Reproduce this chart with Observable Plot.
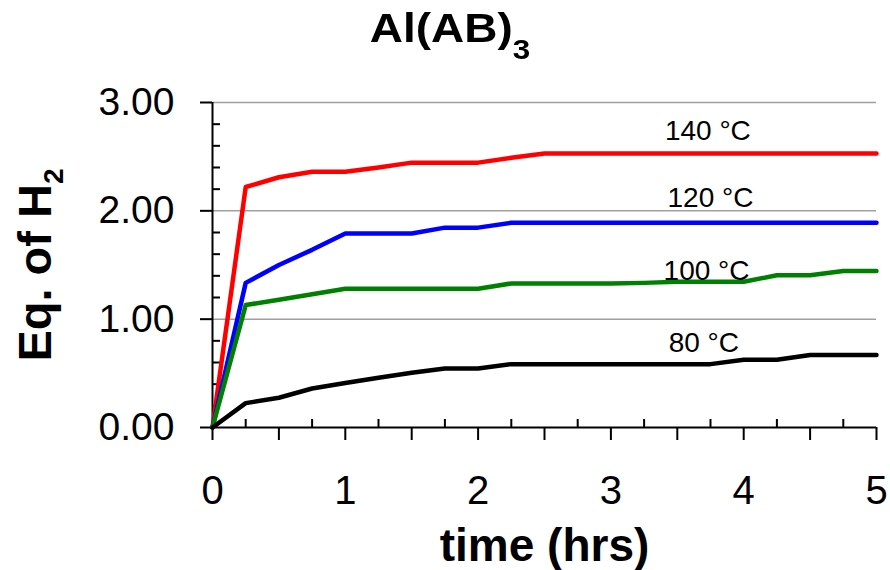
<!DOCTYPE html>
<html><head><meta charset="utf-8">
<script src="https://cdn.jsdelivr.net/npm/d3@7"></script>
<script src="https://cdn.jsdelivr.net/npm/@observablehq/plot@0.6"></script>
<style>
html,body{margin:0;padding:0;background:#fff;}
#title{position:relative;height:70px;width:890px;font-family:"Liberation Sans",Arial,sans-serif;font-weight:bold;font-size:41px;color:#000;}
#title span{position:absolute;left:10px;right:0;top:8px;line-height:41px;text-align:center;white-space:nowrap;transform:scaleX(1.12);transform-origin:50% 50%;}
#title sub{font-size:28px;vertical-align:baseline;position:relative;top:17px;line-height:0;}
</style></head><body>
<div id="title"><span>Al(AB)<sub>3</sub></span></div>
<div id="chart"></div>
<script>
// time (hrs)
const time = [0, 0.25, 0.5, 0.75, 1, 1.25, 1.5, 1.75, 2, 2.25, 2.5, 2.75, 3, 3.25, 3.5, 3.75, 4, 4.25, 4.5, 4.75, 5];
// Eq. of H2 per temperature
const t140 = [0, 2.22, 2.31, 2.36, 2.36, 2.40, 2.445, 2.445, 2.445, 2.49, 2.53, 2.53, 2.53, 2.53, 2.53, 2.53, 2.53, 2.53, 2.53, 2.53, 2.53];
const t120 = [0, 1.335, 1.50, 1.64, 1.79, 1.79, 1.79, 1.845, 1.845, 1.89, 1.89, 1.89, 1.89, 1.89, 1.89, 1.89, 1.89, 1.89, 1.89, 1.89, 1.89];
const t100 = [0, 1.13, 1.18, 1.23, 1.28, 1.28, 1.28, 1.28, 1.28, 1.33, 1.33, 1.33, 1.33, 1.335, 1.345, 1.345, 1.345, 1.405, 1.405, 1.445, 1.445];
const t80  = [0, 0.225, 0.275, 0.36, 0.41, 0.46, 0.505, 0.545, 0.545, 0.585, 0.585, 0.585, 0.585, 0.585, 0.585, 0.585, 0.625, 0.625, 0.67, 0.67, 0.67];

const seriesNames = ["140 °C", "120 °C", "100 °C", "80 °C"];
const seriesColors = ["#ff0000", "#0000ff", "#008000", "#000000"];
const seriesValues = [t140, t120, t100, t80];

// series label placement
const labelX = [3.73, 3.75, 3.72, 3.70];
const labelY = [2.65, 2.04, 1.366, 0.697];

// ticks
const xMajorTicks = [0, 0.5, 1, 1.5, 2, 2.5, 3, 3.5, 4, 4.5, 5];
const xMinorTicks = [0.25, 0.75, 1.25, 1.75, 2.25, 2.75, 3.25, 3.75, 4.25, 4.75];
const xTickLabels = ["0", "1", "2", "3", "4", "5"];
const yMajorTicks = [0, 1, 2, 3];
const yTickLabels = ["0.00", "1.00", "2.00", "3.00"];
const yMinorTicks = [0.2, 0.4, 0.6, 0.8, 1.2, 1.4, 1.6, 1.8, 2.2, 2.4, 2.6, 2.8];
const gridY = [1, 2, 3];

const xTitle = "time (hrs)";
const yTitle = "Eq. of H";
const yTitleSub = "2";

const rows = [];
seriesNames.forEach((s, i) => time.forEach((t, j) => rows.push({series: s, time: t, value: seriesValues[i][j]})));
const labels = seriesNames.map((s, i) => ({name: s, x: labelX[i], y: labelY[i]}));

const font = '"Liberation Sans", Arial, sans-serif';

const chart = Plot.plot({
  width: 890,
  height: 500,
  marginLeft: 212,
  marginRight: 14,
  marginTop: 32,
  marginBottom: 143,
  style: {fontFamily: font, color: "#000", background: "#fff", overflow: "visible"},
  x: {domain: [0, 5]},
  y: {domain: [0, 3]},
  color: {domain: seriesNames, range: seriesColors},
  marks: [
    Plot.ruleY(gridY, {stroke: "#a0a0a0", strokeWidth: 1.5}),
    Plot.axisY(yMinorTicks, {tickSize: 8, dx: 8, strokeWidth: 2, tickFormat: () => "", label: null}),
    Plot.axisY(yMajorTicks, {tickSize: 12, tickPadding: 26, strokeWidth: 2, fontSize: 39,
      tickFormat: d => yTickLabels[yMajorTicks.indexOf(d)], label: null}),
    Plot.axisX(xMinorTicks, {tickSize: 8, dy: -8, strokeWidth: 2, tickFormat: () => "", label: null}),
    Plot.axisX(xMajorTicks, {tickSize: 13, tickPadding: 35, strokeWidth: 2, fontSize: 40,
      tickFormat: d => Number.isInteger(d) ? xTickLabels[d] : "", label: null}),
    Plot.ruleX([0], {strokeWidth: 2}),
    Plot.ruleY([0], {strokeWidth: 2}),
    Plot.line(rows, {x: "time", y: "value", z: "series", stroke: "series", strokeWidth: 4.5, strokeLinejoin: "round", strokeLinecap: "round"}),
    Plot.text(labels, {x: "x", y: "y", text: "name", lineAnchor: "bottom", textAnchor: "middle", fontSize: 28, fill: "#000"}),
    Plot.text([xTitle], {frameAnchor: "bottom", dy: 133, lineAnchor: "bottom", textAnchor: "middle", fontSize: 46, fontWeight: "bold", fill: "#000"}),
    Plot.text([yTitle], {frameAnchor: "left", dx: -162, rotate: -90, lineAnchor: "bottom", textAnchor: "middle", fontSize: 47, fontWeight: "bold", fill: "#000"})
  ]
});
document.getElementById("chart").appendChild(chart);

// subscript for the y title
d3.select(chart).selectAll("text").filter(function() { return this.textContent === yTitle; })
  .append("tspan").attr("dy", 12).attr("font-size", 28).text(yTitleSub);
</script>
</body></html>
